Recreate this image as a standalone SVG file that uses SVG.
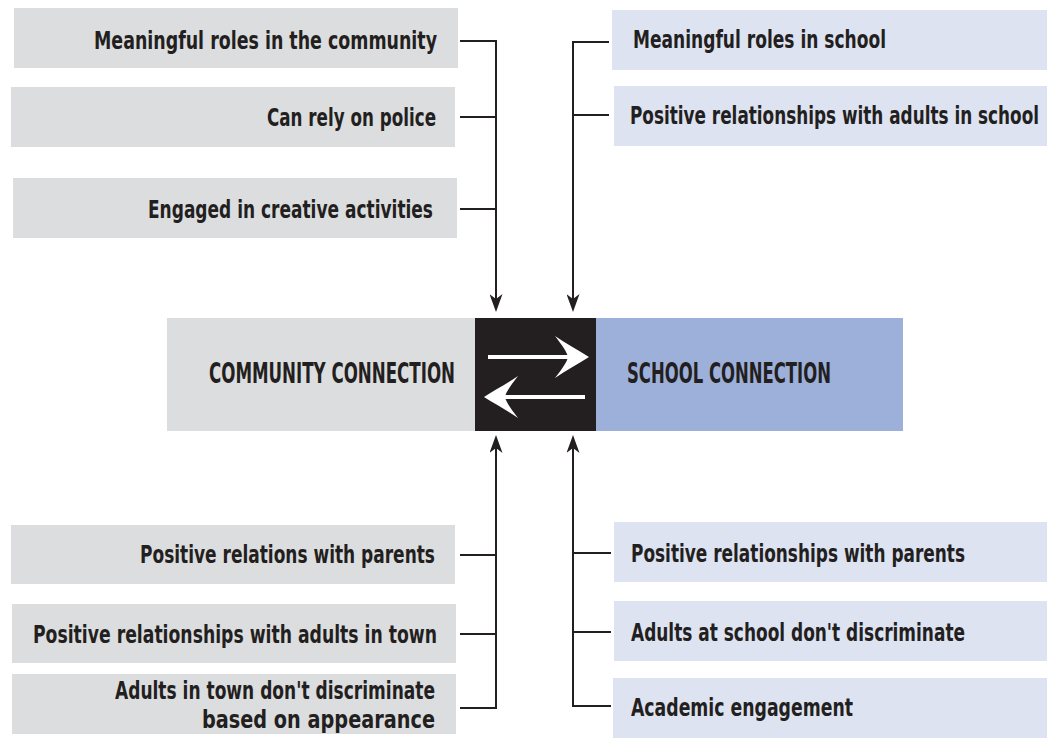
<svg xmlns="http://www.w3.org/2000/svg" width="1047" height="738" viewBox="0 0 1047 738">
<style>
.gray{fill:#dcdddf}
.lb{fill:#dee3f2}
.t{font-family:"Liberation Sans Narrow","DejaVu Sans Condensed","Roboto",sans-serif;font-weight:700;font-size:24px;fill:#231f20}
.tc{font-size:27.5px}
.ln{fill:none;stroke:#231f20;stroke-width:2}
</style>
<defs>
<marker id="ah" viewBox="0 0 18 13" refX="6" refY="6.5" markerWidth="18" markerHeight="13" markerUnits="userSpaceOnUse" orient="auto">
<path d="M0,0 L18,6.5 L0,13 L5,6.5 Z" fill="#231f20"/>
</marker>
</defs>
<rect width="1047" height="738" fill="#fff"/>

<g id="n-meaningful-community"><rect class="gray" x="14" y="8" width="444" height="60"/><text class="t" x="94" y="49" textLength="343" lengthAdjust="spacingAndGlyphs">Meaningful roles in the community</text></g>
<g id="n-police"><rect class="gray" x="11" y="87" width="444" height="60"/><text class="t" x="267" y="126" textLength="169" lengthAdjust="spacingAndGlyphs">Can rely on police</text></g>
<g id="n-creative"><rect class="gray" x="13" y="178" width="444" height="60"/><text class="t" x="148" y="218" textLength="285" lengthAdjust="spacingAndGlyphs">Engaged in creative activities</text></g>

<g id="n-meaningful-school"><rect class="lb" x="612" y="10" width="435" height="60"/><text class="t" x="633" y="48" textLength="253" lengthAdjust="spacingAndGlyphs">Meaningful roles in school</text></g>
<g id="n-adults-school"><rect class="lb" x="614" y="86" width="433" height="60"/><text class="t" x="630" y="124" textLength="409" lengthAdjust="spacingAndGlyphs">Positive relationships with adults in school</text></g>

<g id="n-community"><rect class="gray" x="167" y="318" width="308" height="113"/><text class="t tc" x="209" y="383" textLength="246" lengthAdjust="spacingAndGlyphs">COMMUNITY CONNECTION</text></g>
<g id="n-exchange"><rect x="475" y="318" width="121" height="113" fill="#231f20"/>
<rect x="488" y="355" width="80" height="4" fill="#fff"/>
<path d="M589,357 C578,350 565,343 555,336 C562,345 567,352 568,357 C567,362 562,369 555,378 C565,371 578,364 589,357 Z" fill="#fff"/>
<rect x="503" y="395" width="82" height="4" fill="#fff"/>
<path d="M484,397 C495,390 508,383 518,376 C511,385 506,392 505,397 C506,402 511,409 518,418 C508,411 495,404 484,397 Z" fill="#fff"/>
</g>
<g id="n-school"><rect x="596" y="318" width="307" height="113" fill="#9cb0da"/><text class="t tc" x="627" y="383" textLength="204" lengthAdjust="spacingAndGlyphs">SCHOOL CONNECTION</text></g>

<g id="n-parents-left"><rect class="gray" x="11" y="525" width="444" height="59"/><text class="t" x="140" y="563" textLength="295" lengthAdjust="spacingAndGlyphs">Positive relations with parents</text></g>
<g id="n-adults-town"><rect class="gray" x="12" y="604" width="444" height="59"/><text class="t" x="33" y="643" textLength="404" lengthAdjust="spacingAndGlyphs">Positive relationships with adults in town</text></g>
<g id="n-discriminate-town"><rect class="gray" x="12" y="674" width="444" height="60"/><text class="t" x="115" y="699" textLength="320" lengthAdjust="spacingAndGlyphs">Adults in town don't discriminate</text><text class="t" x="202" y="728" textLength="233" lengthAdjust="spacingAndGlyphs">based on appearance</text></g>

<g id="n-parents-right"><rect class="lb" x="614" y="522" width="433" height="60"/><text class="t" x="631" y="562" textLength="334" lengthAdjust="spacingAndGlyphs">Positive relationships with parents</text></g>
<g id="n-discriminate-school"><rect class="lb" x="614" y="601" width="433" height="60"/><text class="t" x="631" y="641" textLength="334" lengthAdjust="spacingAndGlyphs">Adults at school don't discriminate</text></g>
<g id="n-academic"><rect class="lb" x="613" y="678" width="434" height="60"/><text class="t" x="631" y="716" textLength="222" lengthAdjust="spacingAndGlyphs">Academic engagement</text></g>

<g id="connectors">
<path class="ln" d="M460,41 H496 V300" marker-end="url(#ah)"/>
<path class="ln" d="M460,117 H496 M460,209 H496"/>
<path class="ln" d="M609,42 H573 V300" marker-end="url(#ah)"/>
<path class="ln" d="M609,115 H573"/>
<path class="ln" d="M460,708 H496 V447" marker-end="url(#ah)"/>
<path class="ln" d="M460,555 H496 M460,634 H496"/>
<path class="ln" d="M611,706 H573 V447" marker-end="url(#ah)"/>
<path class="ln" d="M611,553 H573 M611,632 H573"/>
</g>
</svg>
